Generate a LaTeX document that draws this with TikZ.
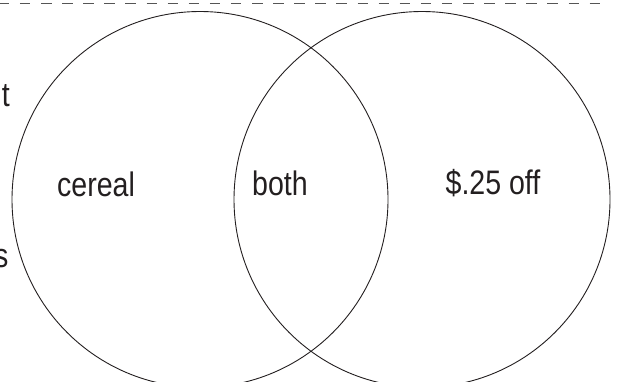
\documentclass[tikz,border=0pt]{standalone}
\usepackage{fontspec}
\setmainfont[FakeStretch=0.84]{Liberation Sans}
\definecolor{ink}{HTML}{231F20}
\definecolor{dashgray}{HTML}{555555}
\begin{document}
\begin{tikzpicture}[x=1pt,y=-1pt,
  lbl/.style={inner sep=0pt, anchor=base, font=\fontsize{34}{40}\selectfont, text=ink},
  ring/.style={circle, draw=ink, line width=0.9pt, minimum size=376pt, inner sep=0pt},
  rule/.style={draw=dashgray, line width=0.9pt, dash pattern=on 10.5pt off 10.6pt, dash phase=1.2pt}]
\useasboundingbox (0,0) rectangle (617,381);
\clip (0,0) rectangle (617,381);
\coordinate (rs) at (0,3);
\coordinate (re) at (606,3);
\draw[rule] (rs) -- (re);
\node[ring] (L) at (200,199.5) {};
\node[ring] (R) at (422,199.5) {};
\node[lbl] (cereal) at (96,196) {cereal};
\node[lbl] (both) at (280,195) {both};
\node[lbl] (off) at (493,194.5) {\$.25 off};
\node[lbl, anchor=base east] (t) at (10,106) {t};
\node[lbl, anchor=base east] (s) at (8.5,267) {s};
\end{tikzpicture}
\end{document}
